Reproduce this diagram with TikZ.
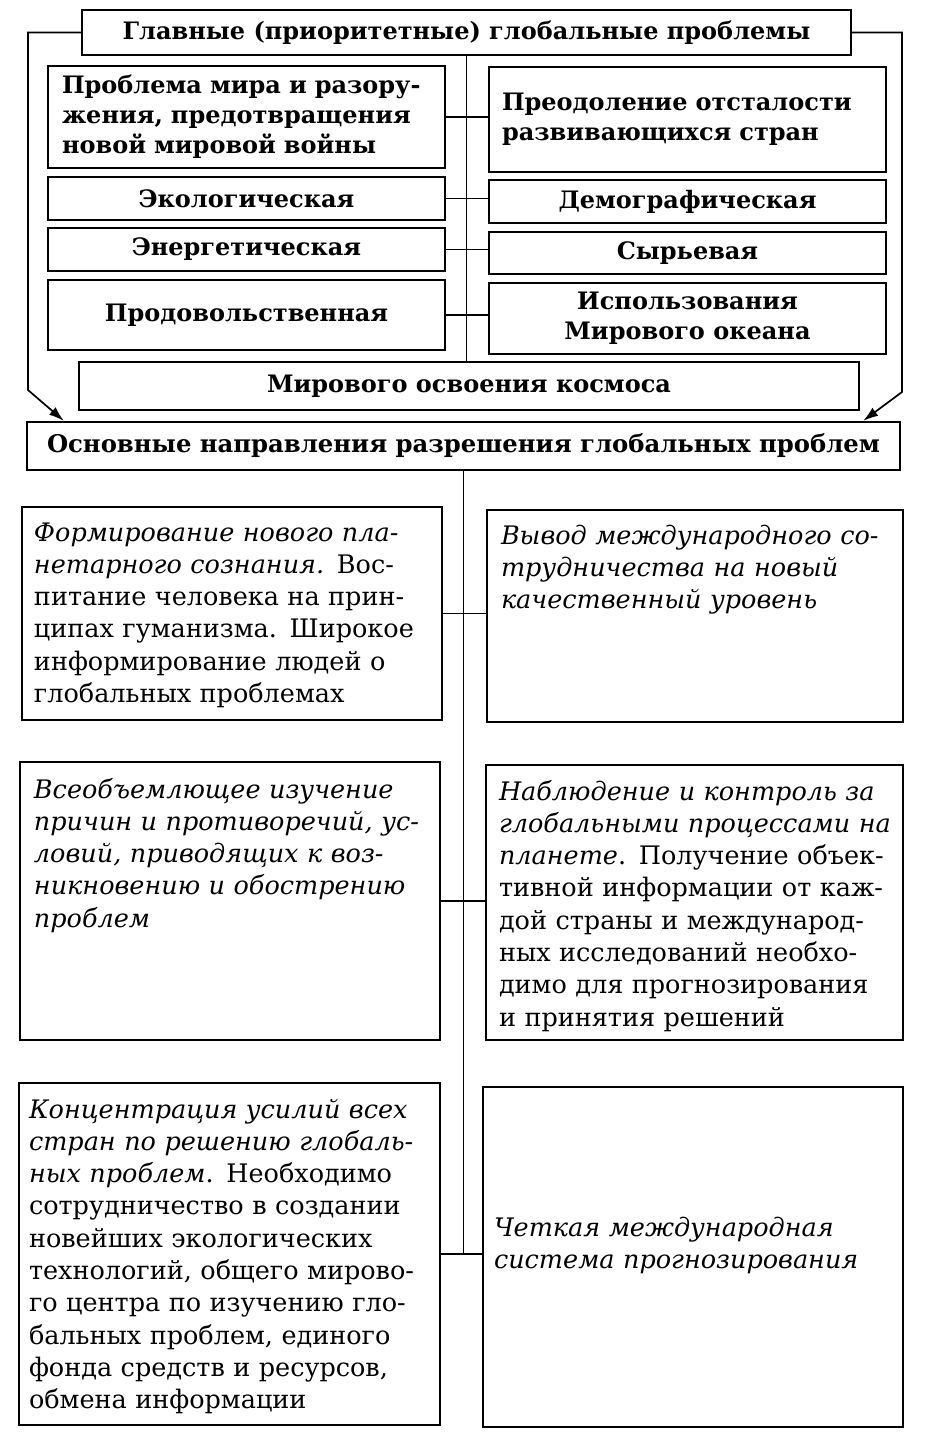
\documentclass[tikz,border=0pt]{standalone}
\usepackage{fontspec}
\setmainfont{DejaVu Serif}
\usetikzlibrary{arrows.meta}
\newcommand\jl[1]{\makebox[\hsize][s]{#1}}
\begin{document}
\begin{tikzpicture}[x=1pt,y=-1pt,
  box/.style={draw, line width=2.4pt, inner sep=0pt},
  up/.style={font=\fontsize{24}{30}\selectfont\bfseries},
  low/.style={font=\fontsize{25.5}{32.3}\selectfont, text width=440pt, align=left, inner sep=0pt, anchor=north west},
  lowit/.style={low, font=\fontsize{25.5}{32.3}\selectfont\itshape},
  link/.style={line width=1.7pt},
  arr/.style={line width=1.7pt, -{Latex[length=15pt,width=10pt]}}]
\useasboundingbox[fill=white] (0,0) rectangle (942,1441);

% upper block
\node[box, up, minimum width=769pt, minimum height=45pt] (title) at (466.5,32.5) {Главные (приоритетные) глобальные проблемы};
\node[box, up, text width=369pt, inner xsep=14pt, minimum height=102pt, align=left] (p1) at (246.5,117) {Проблема мира и разору-\\жения, предотвращения\\новой мировой войны};
\node[box, up, minimum width=397pt, minimum height=43pt] (p2) at (246.5,198.5) {Экологическая};
\node[box, up, minimum width=397pt, minimum height=43pt] (p3) at (246.5,249.5) {Энергетическая};
\node[box, up, minimum width=397pt, minimum height=70pt] (p4) at (246.5,315) {Продовольственная};
\node[box, up, text width=371pt, inner xsep=13pt, minimum height=105pt, align=left] (q1) at (687.5,119.5) {Преодоление отсталости\\развивающихся стран};
\node[box, up, minimum width=397pt, minimum height=43pt] (q2) at (687.5,201.5) {Демографическая};
\node[box, up, minimum width=397pt, minimum height=42pt] (q3) at (687.5,253) {Сырьевая};
\node[box, up, minimum width=397pt, minimum height=71pt, align=center] (q4) at (687.5,318.5) {Использования\\Мирового океана};
\node[box, up, minimum width=780pt, minimum height=48pt] (kos) at (469,386) {Мирового освоения космоса};
\node[box, up, font=\fontsize{24.3}{30}\selectfont\bfseries, minimum width=873pt, minimum height=48pt] (osn) at (463.5,446) {Основные направления разрешения глобальных проблем};

\draw[link] (title.south) -- (title.south |- kos.north);
\draw[link] (p1.east) -- (p1.east -| q1.west);
\draw[link] (p2.east) -- (p2.east -| q2.west);
\draw[link] (p3.east) -- (p3.east -| q3.west);
\draw[link] (p4.east) -- (p4.east -| q4.west);

\coordinate (lb) at (28,390);
\coordinate (rb) at (902,392);
\draw[arr] (title.west) -| (lb) -- ([xshift=38pt]osn.north west);
\draw[arr] (title.east) -| (rb) -- ([xshift=-38pt]osn.north east);

% lower block
\node[box, minimum width=420pt, minimum height=213pt] (a1) at (232,613.5) {};
\node[box, minimum width=416pt, minimum height=212pt] (b1) at (695,616) {};
\node[box, minimum width=420pt, minimum height=278pt] (a2) at (230,901) {};
\node[box, minimum width=417pt, minimum height=275pt] (b2) at (694.5,902.5) {};
\node[box, minimum width=421pt, minimum height=342pt] (a3) at (229.5,1254) {};
\node[box, minimum width=420pt, minimum height=340pt] (b3) at (693,1257) {};

\node[low] (ta1) at ([shift={(13,12.4)}]a1.north west) {\strut\textit{Формирование нового пла-}\\\textit{нетарного сознания.} Вос-\\питание человека на прин-\\ципах гуманизма. Широкое\\информирование людей о\\глобальных проблемах};
\node[lowit] (tb1) at ([shift={(15,12.4)}]b1.north west) {\strut Вывод международного со-\\трудничества на новый\\качественный уровень};
\node[lowit] (ta2) at ([shift={(15,14.4)}]a2.north west) {\strut Всеобъемлющее изучение\\причин и противоречий, ус-\\ловий, приводящих к воз-\\никновению и обострению\\проблем};
\node[low, text width=390pt] (tb2) at ([shift={(14,13.4)}]b2.north west) {\strut\jl{\textit{Наблюдение и контроль за}}\\\jl{\textit{глобальными процессами на}}\\\jl{\textit{планете}. Получение объек-}\\\jl{тивной информации от каж-}\\\jl{дой страны и международ-}\\\jl{ных исследований необхо-}\\\jl{димо для прогнозирования}\\и принятия решений};
\node[low] (ta3) at ([shift={(11,13.4)}]a3.north west) {\strut\textit{Концентрация усилий всех}\\\textit{стран по решению глобаль-}\\\textit{ных проблем}. Необходимо\\сотрудничество в создании\\новейших экологических\\технологий, общего мирово-\\го центра по изучению гло-\\бальных проблем, единого\\фонда средств и ресурсов,\\обмена информации};
\node[lowit] (tb3) at ([shift={(12,127.4)}]b3.north west) {\strut Четкая международная\\система прогнозирования};

\draw[link] (osn.south) -- (osn.south |- a3.east);
\draw[link] (a1.east) -- (a1.east -| b1.west);
\draw[link] (a2.east) -- (a2.east -| b2.west);
\draw[link] (a3.east) -- (a3.east -| b3.west);
\end{tikzpicture}
\end{document}
